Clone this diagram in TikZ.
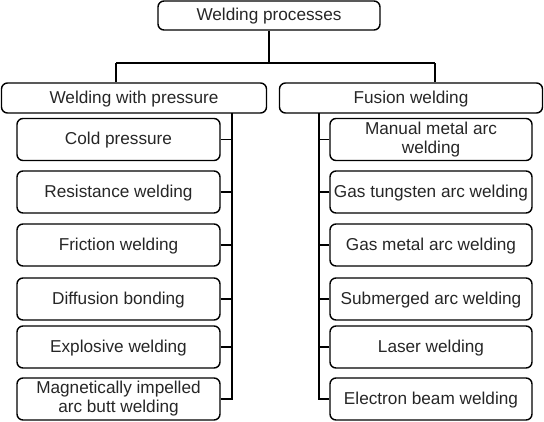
\documentclass[tikz,border=0pt]{standalone}
\usepackage{fontspec}
\setmainfont{Liberation Sans}
\begin{document}
\begin{tikzpicture}[x=1pt,y=-1pt,
  box/.style={draw, line width=1.4pt, rounded corners=6pt, inner sep=0pt, align=center,
    font=\fontsize{17.2}{19}\selectfont, text=black!85},
  oneline/.style={text height=1.2em, text depth=0.2em},
  conn/.style={line width=1.4pt}]
\useasboundingbox (0,0) rectangle (544,421);
\node[box, oneline, minimum width=222pt, minimum height=29pt] (top) at (269,15.5) {Welding processes};
\node[box, oneline, minimum width=265pt, minimum height=30pt] (wp) at (134,98) {Welding with pressure};
\node[box, oneline, minimum width=263pt, minimum height=30pt] (fw) at (411,98) {Fusion welding};
\tikzset{lleaf/.style={box, minimum width=203pt, minimum height=42pt},
         rleaf/.style={box, minimum width=202pt, minimum height=42pt}}
\node[lleaf, oneline] (l1) at (118.5,139.5) {Cold pressure};
\node[lleaf, oneline] (l2) at (118.5,192) {Resistance welding};
\node[lleaf, oneline] (l3) at (118.5,245) {Friction welding};
\node[lleaf, oneline] (l4) at (118.5,299) {Diffusion bonding};
\node[lleaf, oneline] (l5) at (118.5,347) {Explosive welding};
\node[lleaf] (l6) at (118.5,399) {Magnetically impelled\\arc butt welding};
\node[rleaf] (r1) at (431,139.5) {Manual metal arc\\welding};
\node[rleaf, oneline] (r2) at (431,192) {Gas tungsten arc welding};
\node[rleaf, oneline] (r3) at (431,245) {Gas metal arc welding};
\node[rleaf, oneline] (r4) at (431,299) {Submerged arc welding};
\node[rleaf, oneline] (r5) at (431,347) {Laser welding};
\node[rleaf, oneline] (r6) at (431,399) {Electron beam welding};
\coordinate (jL) at (116,63);
\coordinate (jR) at (435,63);
\coordinate (vL) at (232,113);
\coordinate (vR) at (319,113);
\draw[conn] (top.south) -- (top.south |- jL);
\draw[conn] (jL) -- (jR);
\draw[conn] (jL) -- (jL |- wp.north);
\draw[conn] (jR) -- (jR |- fw.north);
\draw[conn] (vL) -- (vL |- l6.east) -- (l6.east);
\foreach \n in {l1,l2,l3,l4,l5} \draw[conn] (\n.east) -- (\n.east -| vL);
\draw[conn] (vR) -- (vR |- r6.west) -- (r6.west);
\foreach \n in {r1,r2,r3,r4,r5} \draw[conn] (\n.west) -- (\n.west -| vR);
\end{tikzpicture}
\end{document}
